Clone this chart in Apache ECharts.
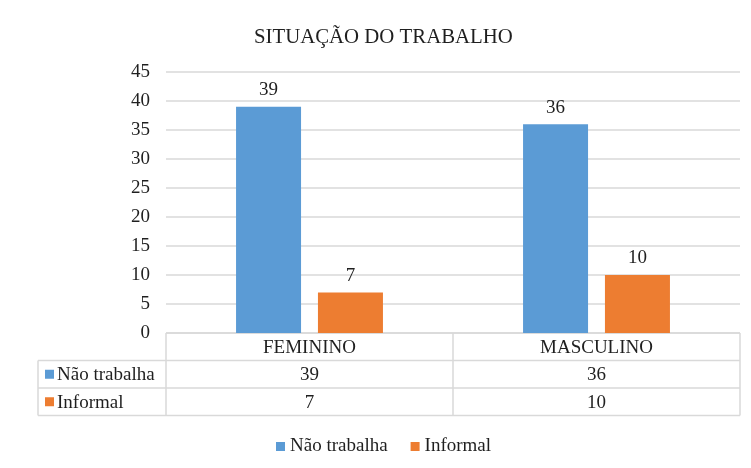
<!DOCTYPE html>
<html><head><meta charset="utf-8">
<script src="https://cdn.jsdelivr.net/npm/echarts@6/dist/echarts.min.js"></script>
<style>html,body{margin:0;padding:0;background:#fff}#c{width:751px;height:468px}</style>
</head><body><div id="c"></div>
<script>
const title = 'SITUAÇÃO DO TRABALHO';
const categories = ['FEMININO', 'MASCULINO'];
const seriesNames = ['Não trabalha', 'Informal'];
const naoTrabalha = [39, 36];
const informal = [7, 10];
const yTicks = [0, 5, 10, 15, 20, 25, 30, 35, 40, 45];
const colors = ['#5B9BD5', '#ED7D31'];
const seriesData = [naoTrabalha, informal];

const FONT = '"Liberation Serif","Times New Roman",serif';
const TXT = '#1f1f1f';
const FS = 19;
const chart = echarts.init(document.getElementById('c'));
chart.setOption({
  animation: false,
  backgroundColor: '#fff',
  title: { text: title, left: 249, top: 22, textStyle: { fontFamily: FONT, fontSize: 20.8, fontWeight: 'normal', color: TXT } },
  grid: { left: 166, right: 11, top: 72, bottom: 135 },
  legend: {
    top: 432, left: 271, itemWidth: 9, itemHeight: 9, itemGap: 23, icon: 'rect',
    textStyle: { fontFamily: FONT, fontSize: FS, color: TXT }, data: seriesNames
  },
  xAxis: {
    type: 'category', data: categories,
    axisLine: { show: false }, axisTick: { show: false }, axisLabel: { show: false }
  },
  yAxis: {
    type: 'value', min: yTicks[0], max: yTicks[yTicks.length - 1], interval: 5,
    axisLine: { show: false }, axisTick: { show: false },
    axisLabel: { margin: 16, fontFamily: FONT, fontSize: FS, color: TXT },
    splitLine: { lineStyle: { color: '#d9d9d9', width: 1.5 } }
  },
  series: seriesNames.map((n, i) => ({
    name: n, type: 'bar', data: seriesData[i], barWidth: 65, barGap: '26%',
    itemStyle: { color: colors[i] },
    label: { show: true, position: 'top', distance: 7, fontFamily: FONT, fontSize: FS, color: TXT }
  }))
});

// Data table below the plot
const y0 = chart.convertToPixel({ yAxisIndex: 0 }, 0);
const xL = 166, xR = 740, tableL = 38;
const mid = (chart.convertToPixel({ xAxisIndex: 0 }, 0) + chart.convertToPixel({ xAxisIndex: 0 }, 1)) / 2;
const rowH = 27.5;
const rows = [y0, y0 + rowH, y0 + 2 * rowH, y0 + 3 * rowH];
const lineStyle = { stroke: '#d9d9d9', lineWidth: 1.5 };
const g = [];
const hl = (x1, x2, y) => g.push({ type: 'line', shape: { x1, y1: y, x2, y2: y }, style: lineStyle, silent: true });
const vl = (x, y1, y2) => g.push({ type: 'line', shape: { x1: x, y1, x2: x, y2 }, style: lineStyle, silent: true });
hl(xL, xR, rows[0]);
hl(tableL, xR, rows[1]); hl(tableL, xR, rows[2]); hl(tableL, xR, rows[3]);
vl(tableL, rows[1], rows[3]); vl(xL, rows[0], rows[3]); vl(mid, rows[0], rows[3]); vl(xR, rows[0], rows[3]);
const txt = (x, y, s, align) => g.push({ type: 'text', x, y, style: { text: s, fontFamily: FONT, fontSize: FS, fill: TXT, align: align || 'center', verticalAlign: 'middle' }, silent: true });
categories.forEach((c, j) => {
  const cx = chart.convertToPixel({ xAxisIndex: 0 }, j);
  txt(cx, (rows[0] + rows[1]) / 2 + 1, c);
  seriesData.forEach((arr, i) => txt(cx, (rows[i + 1] + rows[i + 2]) / 2 + 1, String(arr[j])));
});
seriesNames.forEach((n, i) => {
  const cy = (rows[i + 1] + rows[i + 2]) / 2;
  g.push({ type: 'rect', shape: { x: 45, y: cy - 4.5, width: 9, height: 9 }, style: { fill: colors[i] }, silent: true });
  txt(57, cy + 1, n, 'left');
});
chart.setOption({ graphic: g });
</script></body></html>
